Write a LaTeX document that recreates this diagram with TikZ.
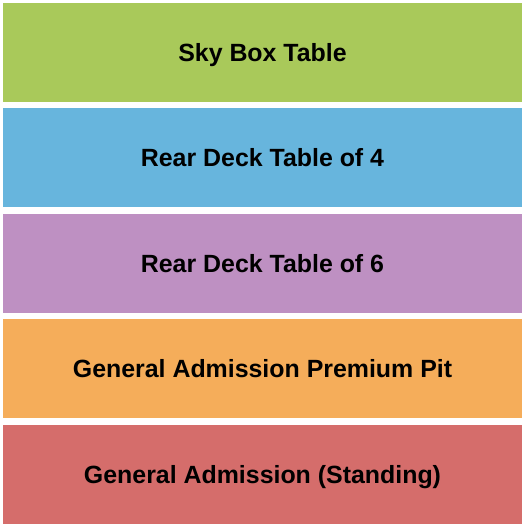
\documentclass[tikz,border=0pt]{standalone}
\usepackage{fontspec}
\setmainfont{Liberation Sans}
\usetikzlibrary{positioning}

\definecolor{skygreen}{HTML}{A9C95A}
\definecolor{deckblue}{HTML}{67B5DD}
\definecolor{deckpurple}{HTML}{BE90C2}
\definecolor{pitorange}{HTML}{F5AD5A}
\definecolor{standred}{HTML}{D56D6B}

\begin{document}
\begin{tikzpicture}
	[x=1bp,y=1bp,
	 section/.style={rectangle,minimum width=519bp,minimum height=99bp,inner sep=0pt,
	 	text height=18bp,text depth=0pt,
	 	font=\fontsize{25}{29}\selectfont\bfseries,text=black}]

	\useasboundingbox (0,0) rectangle (525,-525);

	\node[section,fill=skygreen] (sky) at (262.5,-52.5) {Sky Box Table};
	\node[section,fill=deckblue,below=6bp of sky] (deckfour) {Rear Deck Table of 4};
	\node[section,fill=deckpurple,below=6bp of deckfour] (decksix) {Rear Deck Table of 6};
	\node[section,fill=pitorange,below=6bp of decksix] (pit) {General Admission Premium Pit};
	\node[section,fill=standred,below=6bp of pit] (standing) {General Admission (Standing)};

\end{tikzpicture}
\end{document}
